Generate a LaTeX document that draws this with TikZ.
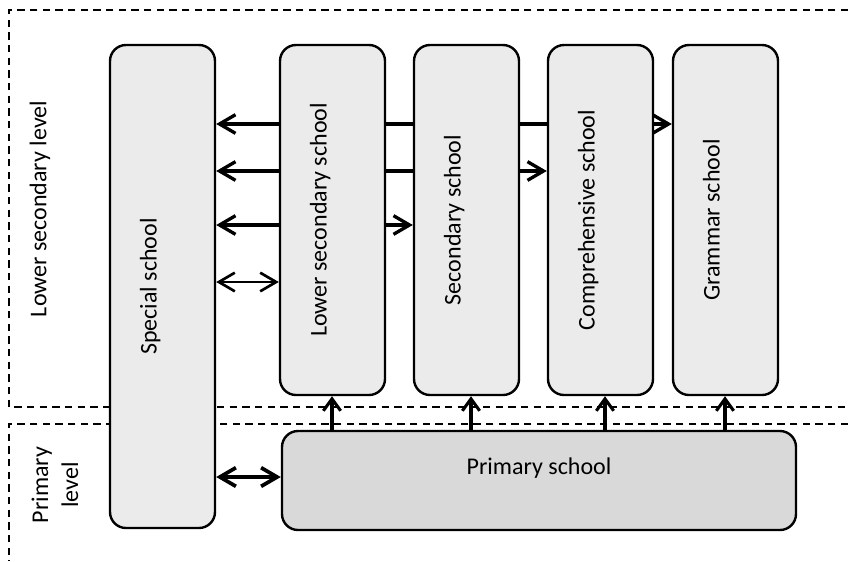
\documentclass[tikz,border=0pt]{standalone}
\usepackage{fontspec}
\setmainfont{Carlito}
\usetikzlibrary{arrows.meta}
\pgfdeclarelayer{background}
\pgfsetlayers{background,main}
\begin{document}
\begin{tikzpicture}[x=0.75pt,y=-0.75pt,
  school/.style={draw=black, line width=1.8pt, rounded corners=12pt, fill=black!8, inner sep=0pt},
  primarybox/.style={school, fill=black!15},
  conn/.style={line width=2.5pt, {Straight Barb[length=12pt,width=14pt]}-{Straight Barb[length=12pt,width=14pt]}},
  thinconn/.style={conn, line width=2pt},
  up/.style={line width=2.3pt, -{Straight Barb[length=9pt,width=13pt]}},
  lvl/.style={line width=1.6pt, dash pattern=on 5.5pt off 4pt},
  font=\fontsize{18pt}{22.5pt}\selectfont]
\useasboundingbox (0,0) rectangle (848,561);

% level labels
\node[rotate=90] (lsl) at (40,209) {Lower secondary level};
\node[rotate=90, align=center] (pl) at (55,485) {Primary\\level};

% schools
\node[school, minimum width=78.75pt, minimum height=362.25pt] (special) at (162.5,286.5)
  {\rotatebox{90}{\raisebox{4.5pt}[0pt][0pt]{Special school}}};
\node[school, minimum width=78.75pt, minimum height=262.5pt] (lower) at (332.5,220)
  {\rotatebox{90}{\raisebox{4.5pt}[0pt][0pt]{Lower secondary school}}};
\node[school, minimum width=78.75pt, minimum height=262.5pt] (secondary) at (466.5,220)
  {\rotatebox{90}{\raisebox{4.5pt}[0pt][0pt]{Secondary school}}};
\node[school, minimum width=78.75pt, minimum height=262.5pt] (compr) at (600.5,220)
  {\rotatebox{90}{\raisebox{4.5pt}[0pt][0pt]{Comprehensive school}}};
\node[school, minimum width=78.75pt, minimum height=262.5pt] (grammar) at (725.5,220)
  {\rotatebox{90}{\raisebox{4.5pt}[0pt][0pt]{Grammar school}}};
\node[primarybox, minimum width=385.5pt, minimum height=74.25pt] (primary) at (539,480.5)
  {\raisebox{4.5pt}[0pt][0pt]{Primary school}};

\begin{pgfonlayer}{background}
  % dashed level frames
  \draw[lvl] (848,10) -- (9,10) -- (9,407) -- (848,407);
  \draw[lvl] (848,424) -- (9,424) -- (9,561);
  % transfers to/from special school
  \draw[conn] (special.east |- 0,124) -- (grammar.west |- 0,124);
  \draw[conn] (special.east |- 0,171) -- (compr.west |- 0,171);
  \draw[conn] (special.east |- 0,225) -- (secondary.west |- 0,225);
  \draw[thinconn] (special.east |- 0,282) -- (lower.west |- 0,282);
  \draw[conn, line width=2.8pt] (special.east |- 0,477) -- (primary.west |- 0,477);
\end{pgfonlayer}

% primary to lower secondary schools
\draw[up] (primary.north -| 332,0) -- (lower.south -| 332,0);
\draw[up] (primary.north -| 471,0) -- (secondary.south -| 471,0);
\draw[up] (primary.north -| 605,0) -- (compr.south -| 605,0);
\draw[up] (primary.north -| 725,0) -- (grammar.south -| 725,0);
\end{tikzpicture}
\end{document}
